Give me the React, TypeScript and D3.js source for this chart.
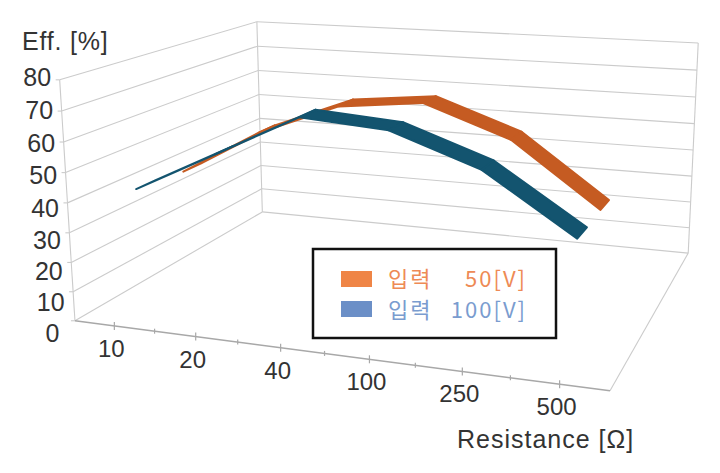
import React from 'react';
import * as d3 from 'd3';

// category axis (Resistance [Ω]) and efficiency series
const categories = ['10', '20', '40', '100', '250', '500'];
const input50 = [40, 56, 67, 70, 60, 39.5];
const input100 = [41.5, 55.5, 69.5, 67.5, 57.5, 39];
const valueTicks = [0, 10, 20, 30, 40, 50, 60, 70, 80];

const W = 720;
const H = 473;

// screen anchors of the 3d box: [category 0..1, value 0..1, depth 0..1, px, py]
const anchors: number[][] = [
  [0, 0, 0, 75, 320], [1, 0, 0, 610, 392], [0, 0, 1, 262, 213], [1, 0, 1, 688, 252],
  [0, 1, 0, 61, 80], [0, 1, 1, 257, 22], [1, 1, 1, 698, 43],
  [1 / 12, 0, 0, 113, 325], [3 / 12, 0, 0, 199, 337], [5 / 12, 0, 0, 283, 348],
  [7 / 12, 0, 0, 370, 359], [9 / 12, 0, 0, 460, 372], [11 / 12, 0, 0, 559, 384],
  [0, 0.25, 0, 70, 262], [0, 0.5, 0, 66, 203], [0, 0.75, 0, 63, 142],
  [0, 0.25, 1, 261, 166], [0, 0.5, 1, 260, 118], [0, 0.75, 1, 258, 70],
  [1, 0.25, 1, 691, 202], [1, 0.5, 1, 693, 150], [1, 0.75, 1, 696, 97],
];

// fit a 3x4 perspective camera to the anchors (DLT, least squares)
function fitCamera(pts: number[][]) {
  const rows: number[][] = [];
  const rhs: number[] = [];
  pts.forEach(([X, Y, Z, px, py]) => {
    const u = (px - W / 2) / (W / 2);
    const v = (py - H / 2) / (H / 2);
    rows.push([X, Y, Z, 1, 0, 0, 0, 0, -u * X, -u * Y, -u * Z]);
    rhs.push(u);
    rows.push([0, 0, 0, 0, X, Y, Z, 1, -v * X, -v * Y, -v * Z]);
    rhs.push(v);
  });
  const n = 11;
  const M = d3.range(n).map((i) => {
    const r = new Array(n + 1).fill(0);
    rows.forEach((row, k) => {
      for (let j = 0; j < n; j++) r[j] += row[i] * row[j];
      r[n] += row[i] * rhs[k];
    });
    return r;
  });
  for (let c = 0; c < n; c++) {
    let p = c;
    for (let r = c + 1; r < n; r++) if (Math.abs(M[r][c]) > Math.abs(M[p][c])) p = r;
    [M[c], M[p]] = [M[p], M[c]];
    for (let r = 0; r < n; r++) {
      if (r === c) continue;
      const f = M[r][c] / M[c][c];
      for (let k = c; k <= n; k++) M[r][k] -= f * M[c][k];
    }
  }
  return M.map((r, i) => r[n] / r[i]);
}

const cam = fitCamera(anchors);

function project(X: number, Y: number, Z: number): [number, number] {
  const w = cam[8] * X + cam[9] * Y + cam[10] * Z + 1;
  const u = (cam[0] * X + cam[1] * Y + cam[2] * Z + cam[3]) / w;
  const v = (cam[4] * X + cam[5] * Y + cam[6] * Z + cam[7]) / w;
  return [u * (W / 2) + W / 2, v * (H / 2) + H / 2];
}

const xScale = d3.scaleBand<string>().domain(categories).range([0, 1]).padding(0);
const xc = (c: string) => (xScale(c) as number) + xScale.bandwidth() / 2;
const yScale = d3.scaleLinear().domain([0, 80]).range([0, 1]);

// back series first so the front ribbon paints over it
const series = [
  { name: '50[V]', values: input50, depth: [0.35, 0.44], color: '#c55b22', key: '#ef8546', text: '#ee8a55' },
  { name: '100[V]', values: input100, depth: [0.125, 0.215], color: '#13546f', key: '#6b8fc7', text: '#7a9ccf' },
];

const line = d3.line();

function seg(a: [number, number, number], b: [number, number, number]) {
  return line([project(...a), project(...b)]) as string;
}

export default function App() {
  const grid = '#cbcbcb';
  const axisFont = '"Liberation Sans", Arial, sans-serif';

  return (
    <svg width={W} height={H} style={{ position: 'fixed', left: 0, top: 0, background: '#fff' }}>
      {/* walls */}
      <g stroke={grid} strokeWidth={1.1} fill="none">
        {valueTicks.map((t) => (
          <path key={'l' + t} d={seg([0, yScale(t), 0], [0, yScale(t), 1])} />
        ))}
        {valueTicks.map((t) => (
          <path key={'b' + t} d={seg([0, yScale(t), 1], [1, yScale(t), 1])} />
        ))}
        <path d={seg([0, 0, 0], [0, 1, 0])} />
        <path d={seg([0, 0, 1], [0, 1, 1])} />
        <path d={seg([1, 0, 1], [1, 1, 1])} />
        <path d={seg([1, 0, 0], [1, 0, 1])} />
        {valueTicks.map((t) => {
          const [px, py] = project(0, yScale(t), 0);
          return <line key={'t' + t} x1={px - 4} x2={px} y1={py} y2={py} />;
        })}
      </g>

      {/* ribbons */}
      {series.map((s) => (
        <g key={s.name} fill={s.color} stroke={s.color} strokeWidth={2} strokeLinejoin="round">
          {s.values.slice(1).map((v, i) => {
            const x0 = xc(categories[i]);
            const x1 = xc(categories[i + 1]);
            const y0 = yScale(s.values[i]);
            const y1 = yScale(v);
            const [z0, z1] = s.depth;
            const pts = [
              project(x0, y0, z0), project(x1, y1, z0),
              project(x1, y1, z1), project(x0, y0, z1),
            ];
            return <polygon key={i} points={pts.map((p) => p.join(',')).join(' ')} />;
          })}
        </g>
      ))}

      {/* category axis */}
      <path d={seg([0, 0, 0], [1, 0, 0])} stroke="#a8a8a8" strokeWidth={1.5} fill="none" />
      {categories.map((c, i) => {
        const [px, py] = project(xc(c), 0, 0);
        const [bx, by] = project(i / categories.length, 0, 0);
        return (
          <g key={c}>
            <line x1={px} x2={px} y1={py - 4} y2={py + 4} stroke="#a8a8a8" strokeWidth={1.2} />
            {i > 0 && <line x1={bx} x2={bx} y1={by - 2.5} y2={by + 2.5} stroke="#a8a8a8" strokeWidth={1.2} />}
            <text x={px - 3} y={py + 31} textAnchor="middle" fontFamily={axisFont} fontSize={24} fill="#333">
              {c}
            </text>
          </g>
        );
      })}

      {/* value axis labels */}
      {valueTicks.map((t) => {
        const [px, py] = project(0, yScale(t), 0);
        return (
          <text key={t} x={px - 8.5 - (t === 0 ? 7 : 0)} y={py + 21.5 - 15.5 * yScale(t)} textAnchor="end" fontFamily={axisFont} fontSize={25} fill="#333">
            {t}
          </text>
        );
      })}

      <text x={22} y={50} fontFamily={axisFont} fontSize={25} letterSpacing={0.8} fill="#333">
        Eff. [%]
      </text>
      <text x={457} y={448} fontFamily={axisFont} fontSize={25} letterSpacing={1} fill="#333">
        Resistance [Ω]
      </text>

      {/* legend */}
      <rect x={313} y={249} width={243} height={89} fill="#fff" stroke="#111" strokeWidth={2.5} />
      {series.map((s, i) => (
        <g key={s.name} fontFamily='"Noto Sans CJK KR", sans-serif' fontSize={22} letterSpacing={2} fill={s.text}>
          <rect x={341} y={271 + i * 30} width={31} height={16} fill={s.key} />
          <text x={388} y={287 + i * 31}>입력</text>
          <text x={527} y={287 + i * 31} textAnchor="end">{s.name}</text>
        </g>
      ))}
    </svg>
  );
}
